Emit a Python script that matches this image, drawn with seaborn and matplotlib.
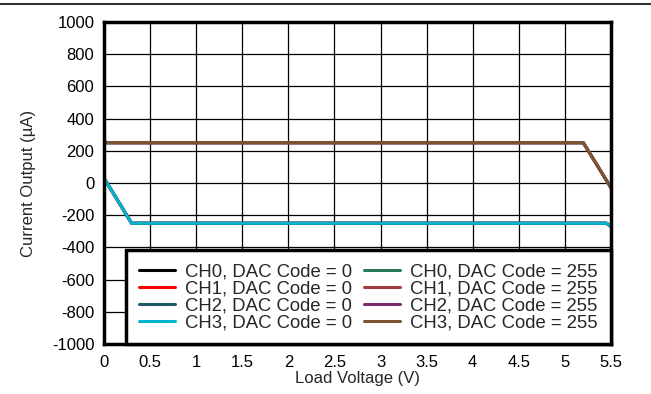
import pandas as pd
import numpy as np
import matplotlib.pyplot as plt
import seaborn as sns
from matplotlib.lines import Line2D

# curves (load voltage in V, current in uA)
volt_code0 = [0.0, 0.3, 5.45, 5.5]
curr_code0 = [30, -250, -250, -270]
volt_code255 = [0.0, 0.03, 5.2, 5.5]
curr_code255 = [260, 250, 250, -30]

channels = ['CH0', 'CH1', 'CH2', 'CH3']
colors_code0 = ['#000000', '#ff0000', '#1d5a6b', '#00b5cc']
colors_code255 = ['#2a7a5a', '#a33d3d', '#7a2a6e', '#7a5530']

xticks = [0, 0.5, 1, 1.5, 2, 2.5, 3, 3.5, 4, 4.5, 5, 5.5]
yticks = list(range(-1000, 1001, 200))

sns.set_style('white')
plt.rcParams['font.family'] = ['Liberation Sans', 'DejaVu Sans']
plt.rcParams['axes.unicode_minus'] = False

fig = plt.figure(figsize=(6.51, 3.94), dpi=100)
ax = fig.add_axes([104 / 651, 1 - 344 / 394, 507 / 651, 322 / 394])

rows = []
for ch in channels:
    for v, c in zip(volt_code0, curr_code0):
        rows.append({'series': ch + ', DAC Code = 0', 'v': v, 'i': c})
for ch in channels:
    for v, c in zip(volt_code255, curr_code255):
        rows.append({'series': ch + ', DAC Code = 255', 'v': v, 'i': c})
df = pd.DataFrame(rows)

labels0 = [ch + ', DAC Code = 0' for ch in channels]
labels255 = [ch + ', DAC Code = 255' for ch in channels]
pal = dict(zip(labels0 + labels255, colors_code0 + colors_code255))

sns.lineplot(data=df, x='v', y='i', hue='series', palette=pal, sort=False,
             estimator=None, linewidth=2.2, ax=ax, legend=False)

ax.set_xlim(0, 5.5)
ax.set_ylim(-1000, 1000)
ax.set_xticks(xticks)
ax.set_xticklabels([('%g' % t) for t in xticks])
ax.set_yticks(yticks)
ax.grid(True, color='black', linewidth=0.9)
ax.set_axisbelow(True)
for s in ax.spines.values():
    s.set_color('black')
    s.set_linewidth(2.5)
ax.tick_params(axis='x', length=0, labelsize=12, pad=8, colors='black')
ax.tick_params(axis='y', length=0, labelsize=12, pad=7, colors='black')
ax.set_xlabel('Load Voltage (V)', fontsize=12, labelpad=1)
ax.set_ylabel('Current Output (\u00b5A)', fontsize=12, labelpad=11)

handles = [Line2D([], [], color=c, linewidth=2.2) for c in colors_code0 + colors_code255]
leg = ax.legend(handles, labels0 + labels255, ncol=2, loc='lower right',
                bbox_to_anchor=(1.0, 0.0), fontsize=13.3, frameon=True, fancybox=False,
                framealpha=1, edgecolor='black', borderaxespad=0, handlelength=1.95,
                handletextpad=0.55, columnspacing=0.65, labelspacing=0.0,
                borderpad=0.7)
leg.get_frame().set_linewidth(2.5)

fig.add_artist(Line2D([0, 1], [1 - 4 / 394, 1 - 4 / 394], color='#333333', linewidth=1.5,
                      transform=fig.transFigure))

fig.savefig('out.png', dpi=100)
